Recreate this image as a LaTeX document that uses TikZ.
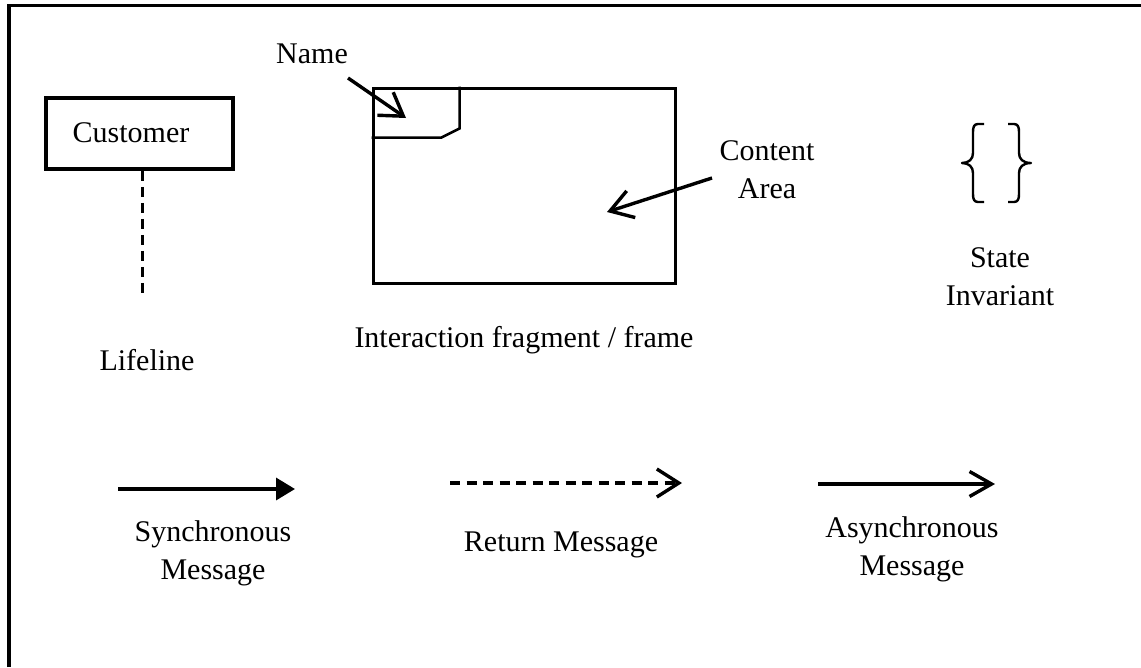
\documentclass[tikz,border=0pt]{standalone}
\usepackage{fontspec}
\setmainfont{Liberation Serif}
\usetikzlibrary{arrows.meta}
\begin{document}
\begin{tikzpicture}[x=1pt,y=-1pt,
  lbl/.style={font=\fontsize{30}{38}\selectfont, align=center, inner sep=0pt},
  thickbox/.style={draw, line width=3.8pt, inner sep=0pt},
  framebox/.style={draw, line width=3pt, inner sep=0pt},
  barb/.style={line width=3.4pt, -{Straight Barb[length=22pt,width=28pt]}},
  solidtri/.style={line width=3.4pt, -{Triangle[length=19pt,width=22pt]}},
  bracepen/.style={line width=2.4pt, line join=round}
]
  \useasboundingbox (0,0) rectangle (1141,667);

  % page border (top and left edges)
  \draw[line width=3.4pt] (9,667) -- (9,5.5) -- (1141,5.5);

  % lifeline
  \node[thickbox, minimum width=187pt, minimum height=71pt] (cust) at (139.5,133.5) {};
  \node[lbl] (custtxt) at (131,133) {Customer};
  \coordinate (lifeEnd) at (142,298);
  \draw[line width=3pt, dash pattern=on 10pt off 6pt] (cust.south -| lifeEnd) -- (lifeEnd);
  \node[lbl] (lifelbl) at (147,360) {Lifeline};

  % interaction frame with its name tab
  \node[framebox, minimum width=302pt, minimum height=195pt] (frame) at (524,185.5) {};
  \draw[line width=2.5pt] (frame.north west) ++(88,0) -- ++(0,42) -- ++(-18,9) -- ++(-70,0);
  \node[lbl] (namelbl) at (312,54) {Name};
  \coordinate (nameTail) at (348,78);
  \coordinate (nameTip) at (406,118);
  \draw[barb] (nameTail) -- (nameTip);

  \node[lbl] (contentlbl) at (767,170) {Content\\Area};
  \coordinate (contentTail) at (712,178);
  \coordinate (contentTip) at (607,212);
  \draw[barb] (contentTail) -- (contentTip);

  \node[lbl] (framelbl) at (524,340) {Interaction fragment / frame};

  % state invariant braces
  \draw[bracepen] (984,124) -- (978,124) .. controls (974,124) and (973,127) .. (973,132)
    -- (973,153) .. controls (973,159) and (969,163) .. (962,163)
    .. controls (969,163) and (973,167) .. (973,173)
    -- (973,194) .. controls (973,199) and (974,202) .. (978,202) -- (984,202);
  \draw[bracepen] (1008,124) -- (1014,124) .. controls (1018,124) and (1019,127) .. (1019,132)
    -- (1019,153) .. controls (1019,159) and (1023,163) .. (1031,163)
    .. controls (1023,163) and (1019,167) .. (1019,173)
    -- (1019,194) .. controls (1019,199) and (1018,202) .. (1014,202) -- (1008,202);
  \node[lbl] (statelbl) at (1000,277) {State\\Invariant};

  % message kinds
  \coordinate (syncA) at (118,489);
  \coordinate (syncB) at (295,489);
  \draw[solidtri] (syncA) -- (syncB);
  \node[lbl] (synclbl) at (213,553) {Synchronous\\Message};

  \coordinate (retA) at (450,483);
  \coordinate (retB) at (682,483);
  \draw[barb, dash pattern=on 10pt off 6.5pt] (retA) -- (retB);
  \node[lbl] (retlbl) at (561,545) {Return Message};

  \coordinate (asyncA) at (818,484);
  \coordinate (asyncB) at (995,484);
  \draw[line width=3.4pt, -{Straight Barb[length=22pt,width=25pt]}] (asyncA) -- (asyncB);
  \node[lbl] (asynclbl) at (912,549) {Asynchronous\\Message};
\end{tikzpicture}
\end{document}
